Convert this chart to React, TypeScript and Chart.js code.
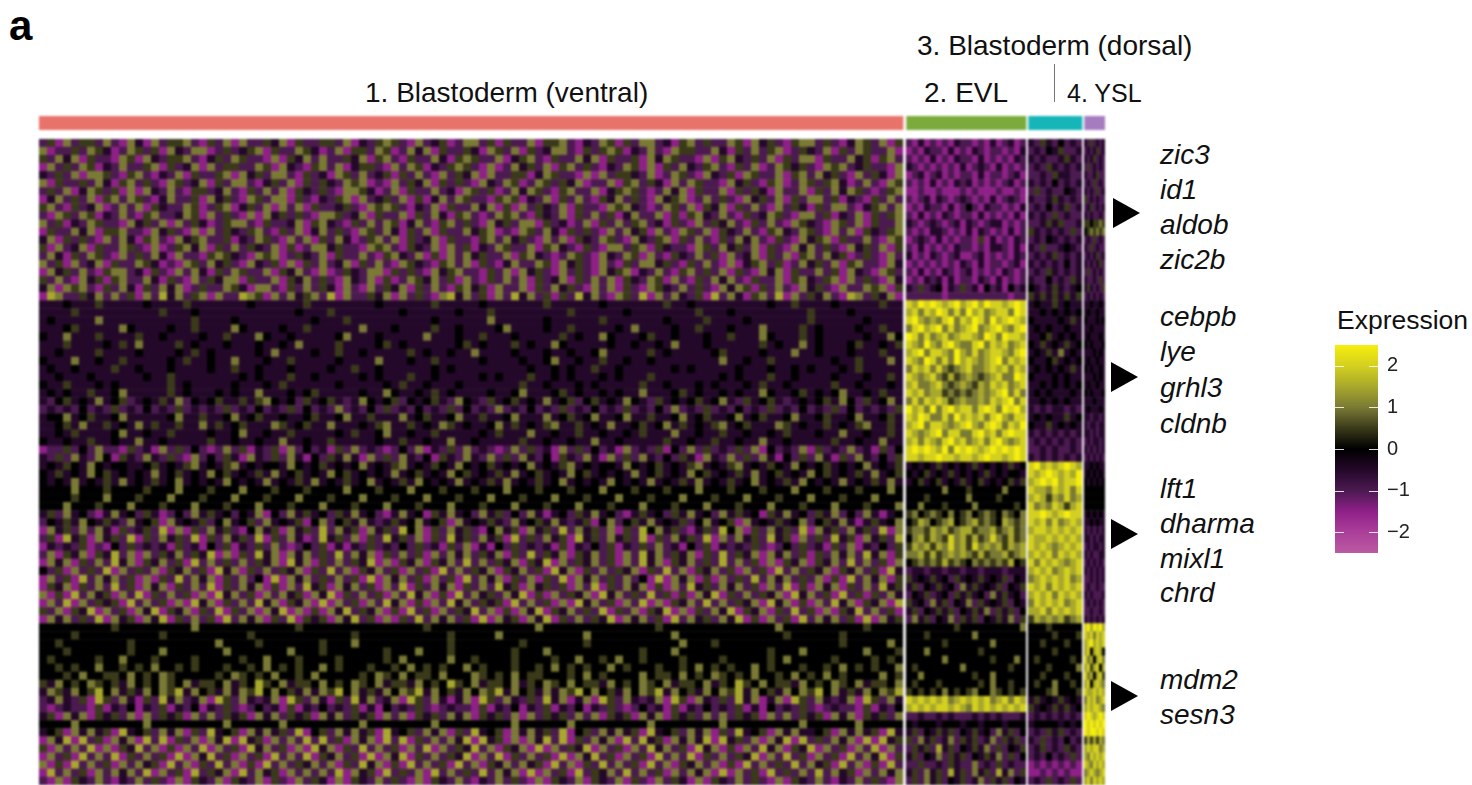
import React, { useEffect, useRef } from "react";
import { Chart, registerables } from "chart.js";
Chart.register(...registerables);

const clusterNames = ["1. Blastoderm (ventral)", "2. EVL", "3. Blastoderm (dorsal)", "4. YSL"];
const clusterColors = ["#e8736a", "#7aab3c", "#15b5b8", "#a67cc0"];
const legendTicks = [2, 1, 0, -1, -2];
const colorStops: [number, string][] = [
  [-2.5, "#bb5aa2"], [-2, "#ab3f9a"], [-1.5, "#8f2088"], [-1, "#4b1a50"], [-0.5, "#24082a"],
  [0, "#000000"], [0.5, "#3a3a1a"], [1, "#7a7a35"], [1.5, "#a8a82c"], [2, "#d4d020"], [2.5, "#f6ee0c"],
];
const blocks = [
  ["zic3", 155], ["id1", 190], ["aldob", 225], ["zic2b", 260],
  ["cebpb", 317], ["lye", 352], ["grhl3", 388], ["cldnb", 424],
  ["lft1", 489], ["dharma", 524], ["mixl1", 559], ["chrd", 593],
  ["mdm2", 680], ["sesn3", 715],
] as [string, number][];

// Expression level per cell: digit d means (d - 4) / 2 on the colour key
const ventralRows = [
"251625526216 316255621526 162253615225 526132565216 235126625152 261556213265 152662315625 226516352156 625213652615",
"612252653126 525163266125 235615226531 261552651263 615225316526 152366215256 513262165522 631526256125 326152652261",
"526361522165 163255621352 652216153626 225361562152 263156522613 562152263615 225163652216 156325261526 615226351562",
"162526513262 256152361625 522651632156 261355216265 132565216126 352615625213 265161526325 621526126535 216562352216",
"325261665215 621326152256 163526621523 165262351526 216253616225 513652216162 553261265216 325165226156 263521625316",
"615225263156 252165236152 662135261525 326561216253 615252163265 126525361226 156253162652 216352156126 525631262165",
"252613652516 163262155236 215262615325 216653126152 262316525126 365215622613 565212636152 261525316226 152636521256",
"136252615626 521362251635 216526615213 256162352615 136265221565 132615262153 625216356126 252163526152 662513215262",
"562152361262 615322651256 135261626152 235216565213 261522636151 625326152216 563212652615 361526216253 152662135626",
"216526513262 156223651625 216163525216 652361522615 263156212656 215326152625 136226151563 262152365216 625132615256",
"625132652216 352616253125 662152236156 321526265136 215625216352 661523126152 625623152162 536215262165 321652615226",
"152263615562 216352161625 325621526136 252165263152 615226356121 652631525216 263516216526 153262156326 521626153256",
"361525216263 156216356225 132652162615 263125626152 361522156263 521626153265 216325615262 152636215216 356152262165",
"516236152265 216125636152 625326151266 352216562153 261625132652 261563215216 625615322165 263526152163 625216352615",
"263152652162 526316221565 321656125326 152262156326 151626352261 563212652163 265162153262 516236152615 626351252162",
"625162361522 653121652635 216325161526 236152621653 215626152136 226516352162 152663521526 216135625126 352615622163",
"163526215662 315216263152 652261536216 125326615252 163562215261 635216252163 561326215625 261521636152 262516321652",
"526216351562 263152162536 615226153625 216326151265 362516215262 615236152626 153265162152 636215226156 325616252163",
"361656215263 152636125226 531662152625 316216253615 262156351622 615263521626 152165326252 163651526216 352162265615",
"176225362625 162736256162 276516263562 716225361625 216736251627 362515273621 652716263251 726315627162 536217625361",
"333433353333 343333533333 334333333533 333333433333 353333343333 333533333343 333333533433 333333343353 333433333533",
"333353333333 333533343333 333333334333 533333333433 333343335333 333333533333 343333333353 334333333333 533334333333",
"343333363333 333333353333 433333333343 335333333333 343333336333 333433333353 333333433335 333343333333 533333343333",
"333453333364 333343353333 643333433533 333363334333 353343333463 333433533333 436333343353 334333633335 343333433533",
"433633353333 533433334335 333643343333 346333433333 633343353334 333335343364 333453343334 335333643335 343333343364",
"333533334353 633335343334 333433436333 353333453433 333345343335 343364333334 334334363334 333333534336 343334533435",
"334333353333 433334353433 333436333343 353343333353 433433633334 333433433463 333353433333 453333433363 343334333533",
"433363343353 333343533433 633343353333 343333633343 353333343333 433463343353 343343333333 363343353333 333433533363",
"343343333533 433343333433 533433343333 433533433333 343433333333 343343433533 433333343433 333433343343 433343533333",
"334333433333 343353333333 343433353343 333343433353 343333343433 353343433343 433353333333 343433353343 333433343353",
"433533343433 333353433333 433343533333 343333343533 433343333333 533433343433 333533433343 433343533433 333533433343",
"343433533463 333353433343 433633343453 333343364334 353433334334 633345343343 433633345343 343433643345 343463343533",
"324534363452 343536243453 353564342534 532364345243 453264325345 343634524534 364325343453 463253453234 345364253463",
"232324232523 242325232325 232423252423 262324252324 232524232623 242325232423 252324262325 232423252324 232524232325",
"344634533463 333346335334 634533433453 346335333634 533463353346 333634534633 463353346345 334634533463 345334633453",
"334536335343 635335336353 453336534533 633343563353 436534334635 343563353436 334534635343 563453336534 335343563353",
"334353333463 343353333433 463343353333 343533463343 353333343533 363343353343 343533363343 353343343533 343363343353",
"433433533433 633433333533 433433633433 533333433533 433633433333 533433433633 433333533433 533433633433 333533433633",
"122524262215 231625242126 251325162423 152623212426 132526232126 252316252423 162325142625 232526142326 152326231524",
"325263264153 263252162425 316325263142 536316252632 415326326252 632415326316 252632425316 326252631425 263152632425",
"343543643443 345343563435 634344364345 343463435634 354364345343 463435634344 364345343563 435634354364 345343463435",
"435343645343 436345343645 343536345343 645343436345 343645343536 345343645343 436345343645 343536345343 645343536345",
"434363435363 435346343436 434363435363 435346343536 434363435363 435346343436 434363435363 435346343536 434363435363",
"444464445444 454446444544 464445444544 446444544464 445444544464 445444544464 445444544464 445444544464 445444544464",
"444454446444 544464445444 644454446444 544464445444 644454446444 544464445444 644454446444 544464445444 644454446444",
"444644454446 444544464445 444644454446 444544464445 444644454446 444544464445 444644454446 444544464445 444644454446",
"352634213634 253124263534 243614263534 253634213634 153634263524 263134253634 213534253634 263534153634 253624263134",
"243536435326 345163435246 345263435146 245363235346 345163435326 345363235146 245363435246 345163435346 245363135346",
"163526263152 352716152635 214635163527 263516352746 152635214635 163527263526 152746352135 274615263527 163526352716",
"251735163527 152635271526 352715263127 352615273526 152735263517 252635173526 352715263527 162635273516 252735163527",
"132325121425 232315231425 132526212425 131325232425 231526131425 232315132425 132526231425 132325212425 231526132425",
"261536153726 162536253716 152736163625 272636152625 162636253615 272536153625 162736253615 272536163625 152636273615",
"163615262736 153625172625 262536173615 262537161536 153627262536 153716253625 162736153625 272625161536 153627262516",
"425162527162 526153625173 615262536152 726153625162 517262536153 625173615262 536152726153 625162517262 536153625173",
"162517263625 161527263615 262417163625 262517163625 162517263615 261527163625 262417163615 162527263625 261517263615",
"153615262725 163615262715 263615162735 163625162715 263615262735 163525162715 263615162735 263625162715 163615262735",
"615172635162 715262516173 625162635163 715262516273 615172635263 715162536173 625272515163 715262536173 625172515263",
"162716253517 262516173615 262736153617 162516273615 162736253517 262516173625 162716153627 262536173615 162736153617",
"526153716251 637153615271 526163716151 637253615172 516253726151 637153625271 526153716152 637153615272 516153726251",
"163625271635 163715262517 263615271535 163725161527 263625171635 163715262537 163625172635 263715162517 263625171635",
"444444444544 444444464444 444444445444 444444444444 544444444444 446444444444 444445444444 444444446444 444444454444",
"444454444444 444544444444 445444444444 444544444444 444544444644 444444446444 444444464444 444444444544 444454444444",
"445444444445 444444444464 444544444445 444644444444 444544444444 544444445444 444444446444 544444444444 444454444464",
"444544444445 444644444446 444444464445 444444454446 444544444445 444644444444 444544464444 444444454446 444444464445",
"454444454464 445444454444 454464445444 454444454644 444644544445 444454464454 644544445444 454444454644 444544445454",
"445454464454 546445454445 445464545446 454445445464 545446454445 445464545446 454445445464 545446454445 445464545446",
"444546445546 454654444454 654546445464 444454654645 546444654546 455444546454 444645546454 654546445464 546454444645",
"536454654536 454654635546 354754635546 454654635536 454754635546 354654645536 454654635546 354754645536 454654635546",
"365364574635 364657364536 365746453636 574635364657 364536465736 453636574645 364657364536 465736453646 574635364657",
"236325175263 152736236175 263236175263 152736236175 263136175263 252736136175 263236175163 252736136175 263236175263",
"212322151324 132513241325 212423151324 232513142325 212322151324 132513241325 212423151324 232513142325 212322151324",
"351636153526 162535162625 351636253516 362535162615 352636153526 162535262615 351636153526 262535162625 351636153526",
"444464444444 464444444446 444444644444 444464444444 464444444446 444444644444 444464444444 464444444446 444444644444",
"345163635173 452636152734 516363527145 263635173452 636152734516 363527145263 635173452636 152734516363 345163635173",
"163717251636 172715261637 173516262727 251636172715 262637173516 163727152636 172735163637 173526163717 252636171735",
"516262716153 726151627162 517362516173 615272625162 716253726153 617162537162 516273625173 615162736153 716251627162",
"162517262715 262517163725 162517262715 362517163715 262537162715 262517163725 162517262715 262537162725 162517263715",
"615172625162 635172615272 615172625362 615273615172 625172615362 635172615272 625172615362 615172625272 635172615172",
"172625162636 271625172536 172635162626 271635172526 172625272636 171625172536 272625162636 171625172526 272635162636",
"216153262132 625216153261 532615216253 161532625216 153262132625 216153261532 615216253161 532625216153 262132625216",
];
const evlRows = [
"21312 12132 21213 12312","12132 21312 13212 21213","21213 12132 21312 12132","32121 21213 12321 31212",
"12312 31212 21312 21231","21213 12132 31212 12312","11211 21112 12111 21121","21231 32123 21213 12321",
"12132 21312 42132 21213","21312 13212 21312 12131","32123 21231 32123 31212","21213 32121 31321 21312",
"12321 31212 21513 12132","21312 12132 21213 32131","31213 21231 12312 12132","12121 21213 21312 21231",
"21312 13212 31212 13212","12132 31312 21321 31212","32523 41325 23142 31423","22222 21222 22222 22122",
"87989 87897 89798 87898","78687 98686 97867 88698","89767 68968 79869 78987","68978 96867 89678 97689",
"98686 78678 87698 69887","87697 68976 68968 78678","78968 87697 68678 87689","87698 68697 87678 96878",
"68786 86567 86678 78687","87678 65756 76567 86698","78667 86567 65768 78678","87867 75656 56767 89686",
"68687 87567 66768 78968","97869 68978 86898 69897","87986 68697 87868 97688","78968 87678 97689 86879",
"87678 96886 68978 68988","78687 68978 67868 97678","89898 79698 98789 89898","88788 98878 87898 87898",
"34343 53434 35343 43534","43453 43534 34353 43443","34534 53435 34534 34535","44444 46444 54444 46444",
"44454 44444 64444 54444","44644 45444 46444 44454","56456 54645 64565 46546","45764 56745 67565 47656",
"56657 67567 75667 56756","46757 65867 57568 65756","57675 76867 58676 75767","66757 56767 65756 67567",
"45656 57565 46565 65745","23323 32332 33233 32333","53435 34253 43534 35243","35243 53426 35343 52435",
"24352 34253 53426 35342","53426 35243 62534 35243","35243 53524 35362 53524","26352 43625 35243 53625",
"44444 44454 44444 44446","44454 44444 46444 44444","44444 45444 44446 44444","44464 44444 44544 44444",
"44444 46444 44445 44464","45444 44446 44444 44544","44644 44444 45446 44444","45444 54444 44546 44544",
"54545 46454 56446 54545","87878 78678 78786 78687","78787 88787 68787 87878",
"22322 32322 23232 32223","43444 34443 44344 43444","35243 53524 35342 63524","52635 23625 35236 25352",
"25352 73524 35362 52435","35243 62535 24353 62524","22522 32532 26232 52322","35263 52735 26352 73625",
"25263 52435 23625 35243",
];
const dorsalRows = [
"325324232","232435223","323223532","232532323","223253322","323242323","252322432","322353232",
"232423523","323252322","223535223","532323252","232432323","325223432","232352323","323232423",
"232532323","322423253","432353234","535353535",
"343353433","334343434","433334353","343433433","334534343","435343534","343536343","433453434",
"343434353","433343433","334343434","343433343","334343433","323233232","343433534","433534343",
"323232323","232323232","223232232","323232323",
"897878987","878987879","789897889","877687868","787576867","867687578","889878988","878686787",
"788787878","877878787","878767878","787868787","868787678","787867878","678787867","878687878",
"787868787","687878678","778687878","576767567",
"444544444","444454445","445444544","444454444","454444454","444544446","445444544","454464454",
"444564445","353435343","534353534","232323232","344443434","232535232","325232423","235232532",
"232423252","121212121","112121211","232523252",
];
const yslRows = [
"3252323","2323523","3235232","2523232","3223522","2325232","3232523","5232322",
"2352323","3232232","5545565","4565656","2325232","3252322","2323523","3232352",
"2523232","3223252","3532325","2323232",
"3343343","3433433","4333434","3343333","3433343","4343334","3334343","3433433",
"4343343","3334343","3433433","4343334","3334333","3433343","3323323","3233233",
"3323233","2323323","3232323","2323232",
"3343433","3434343","4343434","4444444","4444444","4444444","3434343","3343433",
"3232323","3323233","2323323","3232233","2323232","3232323","2232323","2322322",
"3232223","2323232","2232232","3232323",
"8979897","8786878","7897878","7847874","8674786","7857847","8674785","7847876",
"8778787","6878678","7878876","8987898","9898989","9899898","5757576","7878867",
"7687878","8768787","6787678","7868787",
];

const VENTRAL_W = 8, EVL_W = 6, DORSAL_W = 6, YSL_W = 3;
const GAP_A = 3, GAP_B = 2, GAP_C = 2;

function toCells(rows: string[]): number[][] {
  return rows.map((r) => r.replace(/ /g, "").split("").map((c) => (Number(c) - 4) / 2));
}
function hexToRgb(h: string) {
  return [1, 3, 5].map((i) => parseInt(h.slice(i, i + 2), 16));
}
function colorOf(v: number) {
  for (let i = 1; i < colorStops.length; i++) {
    const [hiV, hiC] = colorStops[i];
    const [loV, loC] = colorStops[i - 1];
    if (v <= hiV) {
      const t = Math.max(0, (v - loV) / (hiV - loV));
      const a = hexToRgb(loC), b = hexToRgb(hiC);
      return `rgb(${a.map((x, k) => Math.round(x + (b[k] - x) * t)).join(",")})`;
    }
  }
  return colorStops[colorStops.length - 1][1];
}

function columnDatasets(cells: number[][], width: number) {
  const n = cells[0].length;
  const out: any[] = [];
  for (let c = 0; c < n; c++) {
    out.push({
      data: cells.map(() => width),
      backgroundColor: cells.map((row) => colorOf(row[c] ?? 0)),
      borderWidth: 0, barPercentage: 1.06, categoryPercentage: 1,
    });
  }
  return out;
}
function gapDataset(rowCount: number, width: number) {
  return { data: Array(rowCount).fill(width), backgroundColor: "#f4f2f4", borderWidth: 0, barPercentage: 1.06, categoryPercentage: 1 };
}

const hiddenAxes = (xMax: number) => ({
  x: { stacked: true, display: false, min: 0, max: xMax },
  y: { stacked: true, display: false },
});

const absText = (left: number, top: number, size: number, extra: any = {}) => ({
  position: "absolute" as const, left, top, fontSize: size, lineHeight: 1, transform: "translateY(-50%)",
  fontFamily: '"Liberation Sans", Arial, sans-serif', color: "#111", whiteSpace: "nowrap" as const, ...extra,
});
const triangleStyle = (left: number, top: number) => ({
  position: "absolute" as const, left, top: top - 15, width: 0, height: 0,
  borderTop: "15px solid transparent", borderBottom: "15px solid transparent", borderLeft: "27px solid #000",
});

export default function App() {
  const heatRef = useRef<HTMLCanvasElement>(null);
  const stripRef = useRef<HTMLCanvasElement>(null);
  const keyRef = useRef<HTMLCanvasElement>(null);

  useEffect(() => {
    const v = toCells(ventralRows), e = toCells(evlRows), d = toCells(dorsalRows), y = toCells(yslRows);
    const labels = ventralRows.map((_, i) => `gene ${i + 1}`);
    const n = labels.length;
    const datasets = [
      ...columnDatasets(v, VENTRAL_W), gapDataset(n, GAP_A),
      ...columnDatasets(e, EVL_W), gapDataset(n, GAP_B),
      ...columnDatasets(d, DORSAL_W), gapDataset(n, GAP_C),
      ...columnDatasets(y, YSL_W),
    ];
    const widths = [
      v[0].length * VENTRAL_W, GAP_A, e[0].length * EVL_W, GAP_B, d[0].length * DORSAL_W, GAP_C, y[0].length * YSL_W,
    ];
    const total = widths.reduce((a, b) => a + b, 0);
    const common = { responsive: false, animation: false as const, events: [] as any[], layout: { padding: 0 }, plugins: { legend: { display: false }, tooltip: { enabled: false } } };

    const heat = new Chart(heatRef.current!, {
      type: "bar",
      data: { labels, datasets },
      options: { ...common, indexAxis: "y", scales: hiddenAxes(total) } as any,
    });

    const stripColors = [clusterColors[0], "#ffffff", clusterColors[1], "#ffffff", clusterColors[2], "#ffffff", clusterColors[3]];
    const strip = new Chart(stripRef.current!, {
      type: "bar",
      data: {
        labels: ["cluster"],
        datasets: widths.map((w, i) => ({ data: [w], backgroundColor: stripColors[i], borderWidth: 0, barPercentage: 1, categoryPercentage: 1 })),
      },
      options: { ...common, indexAxis: "y", scales: hiddenAxes(total) } as any,
    });

    const tickMarks = {
      id: "tickMarks",
      afterDatasetsDraw(c: any) {
        const { ctx, chartArea: a, scales } = c;
        ctx.save();
        ctx.strokeStyle = "rgba(255,255,255,0.85)";
        ctx.lineWidth = 1;
        legendTicks.forEach((t) => {
          const py = Math.round(scales.y.getPixelForValue(t)) + 0.5;
          ctx.beginPath();
          ctx.moveTo(a.left, py); ctx.lineTo(a.left + 9, py);
          ctx.moveTo(a.right - 9, py); ctx.lineTo(a.right, py);
          ctx.stroke();
        });
        ctx.restore();
      },
    };
    const key = new Chart(keyRef.current!, {
      type: "bar",
      data: {
        labels: ["Expression"],
        datasets: [{
          data: [[-2.5, 2.5]] as any,
          barPercentage: 1, categoryPercentage: 1, borderWidth: 0,
          backgroundColor: (ctx: any) => {
            const area = ctx.chart.chartArea;
            if (!area) return "#000";
            const g = ctx.chart.ctx.createLinearGradient(0, area.bottom, 0, area.top);
            colorStops.forEach(([val, col]) => g.addColorStop((val + 2.5) / 5, col));
            return g;
          },
        }],
      },
      options: {
        ...common,
        layout: { padding: 0 },
        scales: {
          x: { display: false },
          y: {
            position: "right", min: -2.5, max: 2.5,
            border: { display: false }, grid: { display: false, drawTicks: false },
            afterBuildTicks: (s: any) => { s.ticks = legendTicks.map((value) => ({ value })); },
            afterFit: (s: any) => { s.width = 50; s.paddingTop = 0; s.paddingBottom = 0; },
            ticks: {
              padding: 9, color: "#222", font: { family: '"Liberation Sans", Arial, sans-serif', size: 20 },
              callback: (t: any) => (Number(t) < 0 ? `\u2212${Math.abs(Number(t))}` : `${t}`),
            },
          },
        },
      } as any,
      plugins: [tickMarks],
    });
    return () => { heat.destroy(); strip.destroy(); key.destroy(); };
  }, []);

  const soft = { filter: "blur(0.8px)" };
  return (
    <div style={{ position: "absolute", left: 0, top: 0, width: 1472, height: 785, overflow: "hidden", background: "#fff" }}>
      <canvas ref={stripRef} width={1066} height={14} style={{ position: "absolute", left: 39, top: 116, ...soft }} />
      <canvas ref={heatRef} width={1066} height={646} style={{ position: "absolute", left: 39, top: 139, ...soft }} />
      <canvas ref={keyRef} width={93} height={208} style={{ position: "absolute", left: 1335, top: 345 }} />
      <div style={absText(9, 26, 42, { fontWeight: 700, color: "#000" })}>a</div>
      <div style={absText(365, 93, 28)}>{clusterNames[0]}</div>
      <div style={absText(924, 93, 28)}>{clusterNames[1]}</div>
      <div style={absText(917, 46, 28)}>{clusterNames[2]}</div>
      <div style={absText(1067, 93, 25)}>{clusterNames[3]}</div>
      <div style={{ position: "absolute", left: 1054, top: 64, width: 1, height: 38, background: "#777" }} />
      {blocks.map(([g, top]) => (
        <div key={g} style={absText(1160, top, 28, { fontStyle: "italic" })}>{g}</div>
      ))}
      {[[1113, 213], [1111, 377], [1111, 534], [1111, 696]].map(([l, t]) => (
        <div key={t} style={triangleStyle(l, t)} />
      ))}
      <div style={absText(1337, 320, 26.5)}>Expression</div>
    </div>
  );
}
